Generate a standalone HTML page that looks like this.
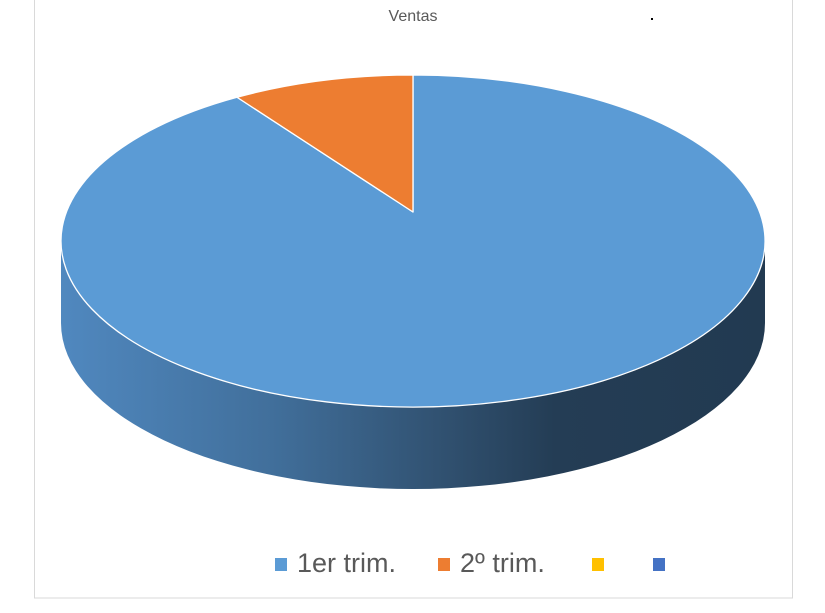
<!DOCTYPE html>
<html><head><meta charset="utf-8"><style>
html,body{margin:0;padding:0;background:#fff;}
svg{display:block;font-family:"Liberation Sans",sans-serif;}
</style></head><body>
<svg id="chart" width="825" height="613" viewBox="0 0 825 613">
<defs>
<linearGradient id="sideGrad" x1="61" y1="0" x2="765" y2="0" gradientUnits="userSpaceOnUse">
<stop offset="0" stop-color="#5088bf"/>
<stop offset="0.3" stop-color="#416f9b"/>
<stop offset="0.55" stop-color="#30506f"/>
<stop offset="0.7" stop-color="#243d55"/>
<stop offset="1" stop-color="#223a51"/>
</linearGradient>
</defs>
<rect x="34.5" y="-5" width="758" height="603" fill="#fff" stroke="#d9d9d9"/>
<text x="413" y="21" text-anchor="middle" font-size="16" fill="#595959">Ventas</text>
<rect x="651" y="18" width="2" height="2" fill="#000"/>
<g id="pie"></g>
<g id="legend"></g>
</svg>
<script>
const categories = ["1er trim.", "2º trim.", "", ""];
const values = [11, 1, 0, 0];
const colors = ["#5b9bd5", "#ed7d31", "#ffc000", "#4472c4"];
const NS = "http://www.w3.org/2000/svg";
const cx = 413, cy = 241, rx = 352, ry = 166, depth = 82;
const pie = document.getElementById("pie");
const total = values.reduce((a, b) => a + b, 0);
function pt(deg, dy) { const t = deg * Math.PI / 180; return [cx + rx * Math.cos(t), cy + ry * Math.sin(t) + (dy || 0)]; }
const side = document.createElementNS(NS, "path");
const l = pt(180), r = pt(0);
side.setAttribute("d", `M${r[0]},${r[1]} L${r[0]},${r[1]+depth} A${rx},${ry} 0 0 1 ${l[0]},${l[1]+depth} L${l[0]},${l[1]} A${rx},${ry} 0 0 0 ${r[0]},${r[1]} Z`);
side.setAttribute("fill", "url(#sideGrad)");


pie.appendChild(side);
let cum = 0;
values.forEach((v, i) => {
  if (v <= 0) return;
  const a0 = -90 + cum / total * 360;
  cum += v;
  const a1 = -90 + cum / total * 360;
  const p0 = pt(a0), p1 = pt(a1);
  const large = (a1 - a0) > 180 ? 1 : 0;
  const p = document.createElementNS(NS, "path");
  p.setAttribute("d", `M${cx},${cy-29} L${p0[0]},${p0[1]} A${rx},${ry} 0 ${large} 1 ${p1[0]},${p1[1]} Z`);
  p.setAttribute("fill", colors[i]);
  p.setAttribute("stroke", "#fff");
  p.setAttribute("stroke-width", "1.3");
  p.setAttribute("stroke-linejoin", "round");
  
  
  pie.appendChild(p);
});
const lg = document.getElementById("legend");
const lx = [275, 438, 592, 653];
categories.forEach((c, i) => {
  const s = document.createElementNS(NS, "rect");
  s.setAttribute("x", lx[i]); s.setAttribute("y", 558); s.setAttribute("width", 12); s.setAttribute("height", 13);
  s.setAttribute("fill", colors[i]);
  
  
  lg.appendChild(s);
  if (c) {
    const t = document.createElementNS(NS, "text");
    t.setAttribute("x", lx[i] + 22); t.setAttribute("y", 572);
    t.setAttribute("font-size", "27"); t.setAttribute("fill", "#595959");
    t.textContent = c;
    
    
    lg.appendChild(t);
  }
});
</script>
</body></html>
